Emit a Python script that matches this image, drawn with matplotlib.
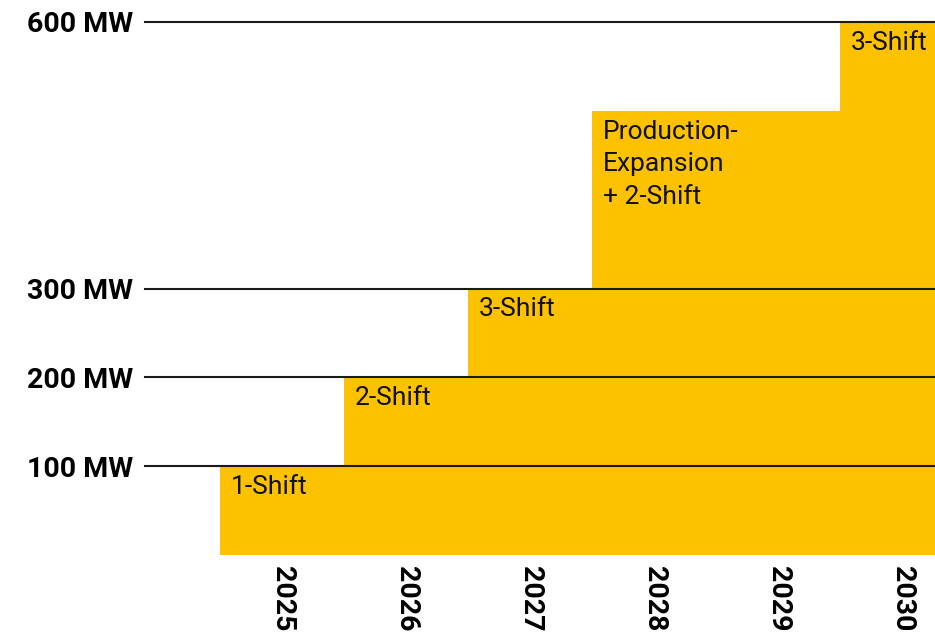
import matplotlib
matplotlib.use("Agg")
import matplotlib.pyplot as plt

years = ["2025", "2026", "2027", "2028", "2029", "2030"]
capacity_mw = [100, 200, 300, 500, 500, 600]
bar_labels = ["1-Shift", "2-Shift", "3-Shift", "Production-\nExpansion\n+ 2-Shift", "", "3-Shift"]
grid_levels = [100, 200, 300, 600]
grid_labels = ["100 MW", "200 MW", "300 MW", "600 MW"]

plt.rcParams['font.family'] = ['Roboto', 'DejaVu Sans']

W, H = 935, 637
fig = plt.figure(figsize=(W / 100, H / 100), dpi=100)
left = 145 / W
bottom = (H - 555) / H
top = (H - 22) / H
ax = fig.add_axes([left, bottom, 1 - left, top - bottom])

x = list(range(len(years)))
yellow = "#FCC200"
ax.bar(x, capacity_mw, width=1.0, color=yellow, zorder=1, linewidth=0)

for lvl in grid_levels:
    ax.axhline(lvl, color="#1a1a1a", lw=1.5, zorder=3, clip_on=False)

for xi, v, lab in zip(x, capacity_mw, bar_labels):
    if lab:
        ax.annotate(lab, xy=(xi - 0.5, v), xytext=(11, -9), textcoords="offset pixels",
                    ha="left", va="top", fontsize=19, color="#111111", zorder=4,
                    linespacing=1.45)

ax.set_xlim(-0.5 - 75 / 124, -0.5 + (935 - 220) / 124)
ax.set_ylim(0, 600)

ax.set_yticks(grid_levels)
ax.set_yticklabels(grid_labels, fontsize=20.5, fontweight="bold")
ax.set_xticks(x)
ax.set_xticklabels(years, fontsize=20.5, fontweight="bold", rotation=-90)
ax.tick_params(axis="y", length=0, pad=8.5)
ax.tick_params(axis="x", length=0, pad=8)

for s in ax.spines.values():
    s.set_visible(False)

fig.savefig("out.png", dpi=100)
